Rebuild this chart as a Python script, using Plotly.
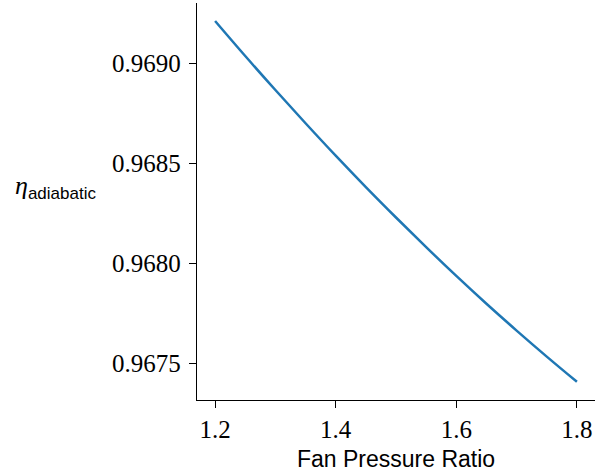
import plotly.graph_objects as go

fan_pressure_ratio = [1.20, 1.25, 1.30, 1.35, 1.40, 1.45, 1.50, 1.55, 1.60, 1.65, 1.70, 1.75, 1.80]
eta_adiabatic = [0.969211, 0.969036, 0.968866, 0.968700, 0.968538, 0.968381, 0.968229,
                 0.968081, 0.967937, 0.967798, 0.967664, 0.967534, 0.967408]

x_ticks = [1.2, 1.4, 1.6, 1.8]
x_tick_labels = ["1.2", "1.4", "1.6", "1.8"]
y_ticks = [0.9675, 0.9680, 0.9685, 0.9690]
y_tick_labels = ["0.9675", "0.9680", "0.9685", "0.9690"]

fig = go.Figure()
fig.add_trace(go.Scatter(
    x=fan_pressure_ratio, y=eta_adiabatic, mode="lines",
    line=dict(color="#1f77b4", width=2.5, shape="spline"),
    showlegend=False, hoverinfo="skip",
))

serif = "Liberation Serif, DejaVu Serif, serif"
sans = "Liberation Sans, Arial, sans-serif"

L, R, T, B = 197, 1, 3, 75
W, H = 596, 475
pw, ph = W - L - R, H - T - B

fig.update_layout(
    width=W, height=H,
    margin=dict(l=L, r=R, t=T, b=B, autoexpand=False),
    paper_bgcolor="white", plot_bgcolor="white",
    xaxis=dict(
        range=[1.17, 1.83], tickvals=x_ticks, ticktext=x_tick_labels, automargin=False,
        showgrid=False, zeroline=False, showline=True, linecolor="black", linewidth=1.4,
        ticks="outside", ticklen=7, tickwidth=1.4, tickcolor="black",
        tickfont=dict(family=serif, size=25, color="black"),
    ),
    yaxis=dict(
        range=[0.967317, 0.969301], tickvals=y_ticks, ticktext=y_tick_labels, automargin=False,
        showgrid=False, zeroline=False, showline=True, linecolor="black", linewidth=1.4,
        ticks="outside", ticklen=7, tickwidth=1.4, tickcolor="black",
        tickfont=dict(family=serif, size=25, color="black"),
        ticklabelstandoff=3,
    ),
)

# x-axis title
fig.add_annotation(
    xref="paper", yref="paper", x=(396 - L) / pw, y=-(459 - (T + ph)) / ph,
    xanchor="center", yanchor="middle", showarrow=False,
    text="Fan Pressure Ratio",
    font=dict(family=sans, size=23, color="black"),
)

# y-axis label
fig.add_annotation(
    xref="paper", yref="paper", x=(13 - L) / pw, y=(T + ph - 187) / ph,
    xanchor="left", yanchor="middle", showarrow=False,
    text=("<span style='font-family:Liberation Serif;font-style:italic;font-size:26px'>η</span>"
          "<sub><span style='font-family:Liberation Sans;font-size:17px'>adiabatic</span></sub>"),
    font=dict(family=sans, size=26, color="black"),
)

fig.write_html("out.html", config={"displayModeBar": False},
               post_script="document.body.style.margin='0';document.body.style.padding='0';")
